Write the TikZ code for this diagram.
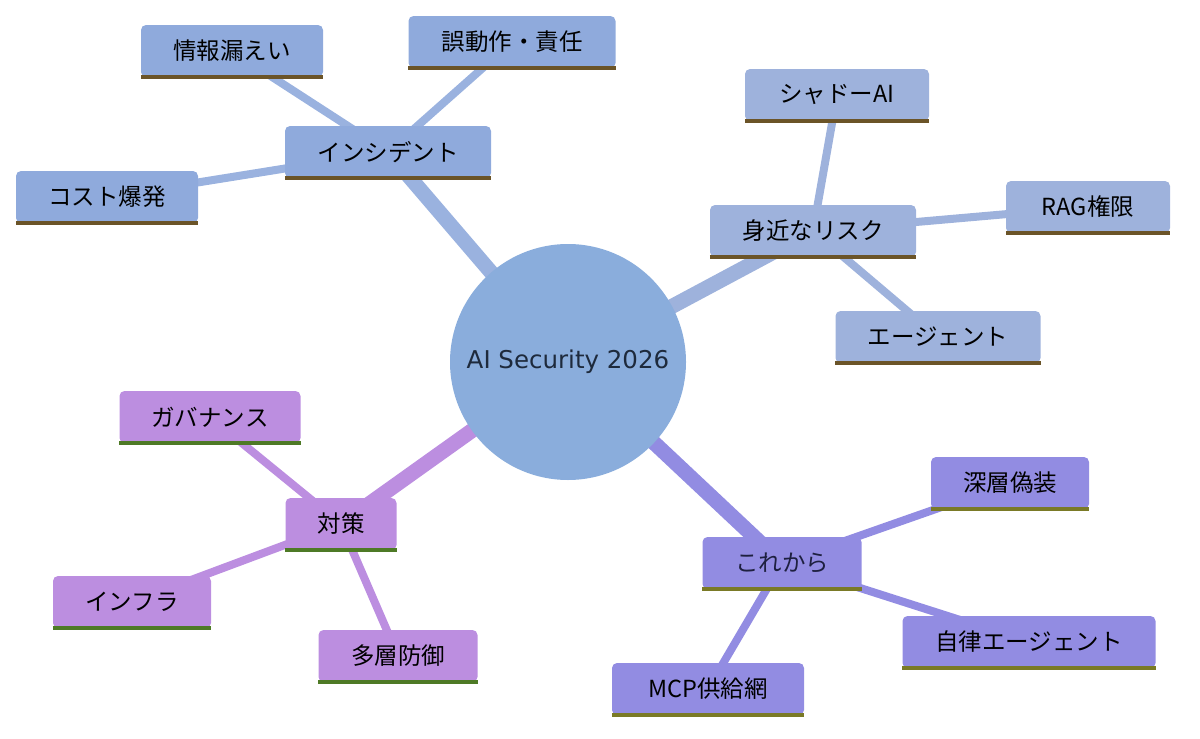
\documentclass[tikz,border=0pt]{standalone}
\usepackage{fontspec}
\newfontfamily\jp{Noto Sans CJK JP}
\newfontfamily\lat{DejaVu Sans}
\usetikzlibrary{backgrounds}
\definecolor{cA}{HTML}{8FAADC}
\definecolor{cB}{HTML}{9EB2DC}
\definecolor{cC}{HTML}{BC8EE0}
\definecolor{cD}{HTML}{928CE2}
\definecolor{cRoot}{HTML}{8AADDC}
\definecolor{lA}{HTML}{6B5428}
\definecolor{lC}{HTML}{4E7A26}
\definecolor{lD}{HTML}{7A7A26}
\definecolor{txtRoot}{HTML}{1E2A3C}
\definecolor{txtD}{HTML}{1E2040}
\begin{document}
\begin{tikzpicture}[x=1pt,y=-1pt,
  box/.style={rounded corners=5pt, minimum height=52pt, inner sep=0pt, font=\jp\fontsize{23.5}{26}\selectfont, text=black},
  e1/.style={line width=15pt},
  e2/.style={line width=8pt},
  uline/.style={line width=4pt}]
\useasboundingbox (0,0) rectangle (1200,739);
\node[circle, fill=cRoot, minimum size=236pt, inner sep=0pt, font=\lat\fontsize{24.5}{28}\selectfont, text=txtRoot] (root) at (568,362) {AI Security 2026};
% section A
\node[box, fill=cA, minimum width=206pt] (inc) at (388,152) {インシデント};
\node[box, fill=cA, minimum width=182pt] (leak) at (232,51) {情報漏えい};
\node[box, fill=cA, minimum width=207pt] (err) at (512,42) {誤動作・責任};
\node[box, fill=cA, minimum width=182pt] (cost) at (107,197) {コスト爆発};
% section B
\node[box, fill=cB, minimum width=206pt] (risk) at (813,231) {身近なリスク};
\node[box, fill=cB, minimum width=184pt] (shadow) at (837,95) {シャドーAI};
\node[box, fill=cB, minimum width=164pt] (rag) at (1088,207) {RAG権限};
\node[box, fill=cB, minimum width=205pt] (agent) at (938,337) {エージェント};
% section C
\node[box, fill=cC, minimum width=111pt] (meas) at (341,524) {対策};
\node[box, fill=cC, minimum width=181pt] (gov) at (210,417) {ガバナンス};
\node[box, fill=cC, minimum width=158pt] (infra) at (132,602) {インフラ};
\node[box, fill=cC, minimum width=159pt] (multi) at (398,656) {多層防御};
% section D
\node[box, fill=cD, minimum width=159pt, text=txtD] (future) at (782,563) {これから};
\node[box, fill=cD, minimum width=158pt] (deep) at (1010,483) {深層偽装};
\node[box, fill=cD, minimum width=253pt] (auto) at (1029,642) {自律エージェント};
\node[box, fill=cD, minimum width=192pt] (mcp) at (708,689) {MCP供給網};
\foreach \n/\c in {inc/lA,leak/lA,err/lA,cost/lA,risk/lA,shadow/lA,rag/lA,agent/lA,meas/lC,gov/lC,infra/lC,multi/lC,future/lD,deep/lD,auto/lD,mcp/lD}
  \draw[uline,\c] (\n.south west) -- (\n.south east);
\begin{pgfonlayer}{background}
\draw[e1, cA!90!white] (root.center) -- (inc.center);
\draw[e2, cA!90!white] (inc.center) -- (leak.center);
\draw[e2, cA!90!white] (inc.center) -- (err.center);
\draw[e2, cA!90!white] (inc.center) -- (cost.center);
\draw[e1, cB] (root.center) -- (risk.center);
\draw[e2, cB] (risk.center) -- (shadow.center);
\draw[e2, cB] (risk.center) -- (rag.center);
\draw[e2, cB] (risk.center) -- (agent.center);
\draw[e1, cC] (root.center) -- (meas.center);
\draw[e2, cC] (meas.center) -- (gov.center);
\draw[e2, cC] (meas.center) -- (infra.center);
\draw[e2, cC] (meas.center) -- (multi.center);
\draw[e1, cD] (root.center) -- (future.center);
\draw[e2, cD] (future.center) -- (deep.center);
\draw[e2, cD] (future.center) -- (auto.center);
\draw[e2, cD] (future.center) -- (mcp.center);
\end{pgfonlayer}
\end{tikzpicture}
\end{document}
